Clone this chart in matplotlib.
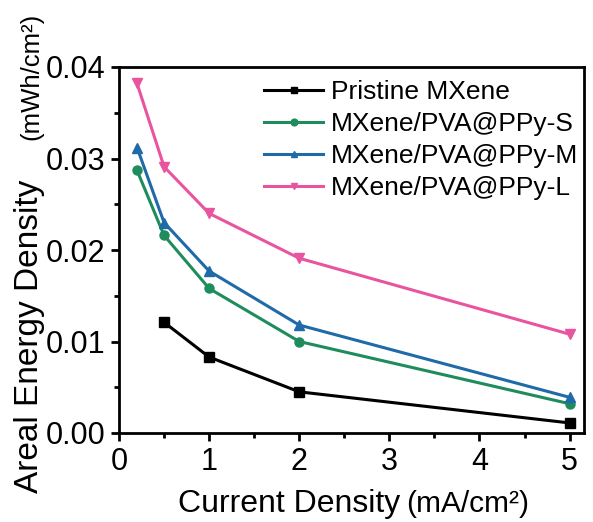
import numpy as np
import matplotlib
matplotlib.use("Agg")
import matplotlib.pyplot as plt
from matplotlib.ticker import MultipleLocator

plt.rcParams['font.family'] = ['Liberation Sans', 'DejaVu Sans']

# data
current = [0.2, 0.5, 1, 2, 5]
pristine_x = [0.5, 1, 2, 5]
pristine = [0.0121, 0.0083, 0.0045, 0.0011]
pva_s = [0.0287, 0.0216, 0.0158, 0.0100, 0.0032]
pva_m = [0.0312, 0.0230, 0.0177, 0.0118, 0.0039]
pva_l = [0.0382, 0.0291, 0.0240, 0.0191, 0.0108]

labels = ["Pristine MXene", "MXene/PVA@PPy-S", "MXene/PVA@PPy-M", "MXene/PVA@PPy-L"]
colors = ["#000000", "#1e8c5c", "#1f6aa8", "#e8559e"]
markers = ["s", "o", "^", "v"]

W, H = 593, 522
fig = plt.figure(figsize=(W / 100, H / 100), dpi=100)
ax = fig.add_axes([119 / W, 1 - 433 / H, (584 - 119) / W, (433 - 67) / H])

series = [(pristine_x, pristine), (current, pva_s), (current, pva_m), (current, pva_l)]
for (xs, ys), lab, c, m in zip(series, labels, colors, markers):
    ax.plot(xs, ys, color=c, marker=m, markersize=6.5, linewidth=2.2, label=lab)

ax.set_xlim(0, 5.16)
ax.set_ylim(0, 0.04)
ax.xaxis.set_major_locator(MultipleLocator(1))
ax.xaxis.set_minor_locator(MultipleLocator(0.5))
ax.yaxis.set_major_locator(MultipleLocator(0.01))
ax.yaxis.set_minor_locator(MultipleLocator(0.005))
ax.yaxis.set_major_formatter(plt.FormatStrFormatter('%.2f'))
ax.tick_params(which='major', direction='out', length=6, width=2, labelsize=22,
               top=False, right=False, pad=4)
ax.tick_params(which='minor', direction='out', length=3.5, width=2,
               top=False, right=False)
for s in ax.spines.values():
    s.set_linewidth(2)

# axis titles with smaller unit text
fig.text(400 / W, 1 - 512 / H, "Current Density", fontsize=23, ha='right', va='baseline')
fig.text(406 / W, 1 - 512 / H, "(mA/cm²)", fontsize=21.5, ha='left', va='baseline')
fig.text(38 / W, 1 - 336 / H, "Areal Energy Density", fontsize=24, rotation=90,
         rotation_mode='anchor', ha='center', va='baseline')
fig.text(38 / W, 1 - 76 / H, "(mWh/cm²)", fontsize=18.5, rotation=90,
         rotation_mode='anchor', ha='center', va='baseline')

ax.legend(loc='upper left', bbox_to_anchor=(264 / W, 1 - 80 / H),
          bbox_transform=fig.transFigure, frameon=False, fontsize=19,
          handlelength=2.25, handletextpad=0.3, labelspacing=0.3,
          borderpad=0, borderaxespad=0, markerscale=0.75)

fig.savefig("out.png", dpi=100)
